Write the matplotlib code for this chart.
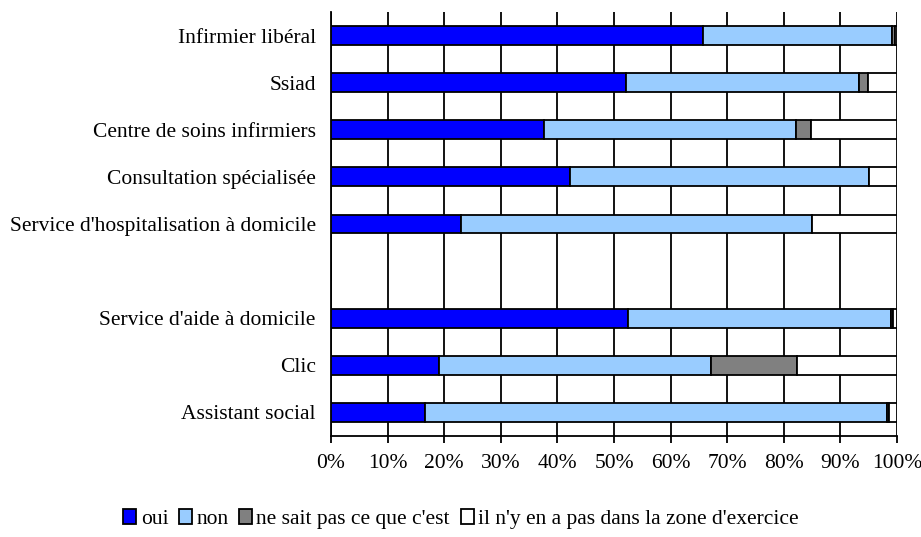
import matplotlib
matplotlib.use("Agg")
import matplotlib.pyplot as plt
import numpy as np

plt.rcParams['font.family'] = ['Liberation Serif', 'DejaVu Serif']

# categories, top to bottom ('' = empty slot between the two groups)
categories = ["Infirmier libéral", "Ssiad", "Centre de soins infirmiers",
              "Consultation spécialisée", "Service d'hospitalisation à domicile",
              "", "Service d'aide à domicile", "Clic", "Assistant social"]

# shares in %
oui = [65.8, 52.1, 37.6, 42.3, 23.0, 0, 52.5, 19.0, 16.6]
non = [33.3, 41.2, 44.6, 52.7, 61.9, 0, 46.4, 48.1, 81.7]
nsp = [0.5, 1.6, 2.6, 0.0, 0.0, 0, 0.4, 15.3, 0.2]
aucun = [0.4, 5.1, 15.2, 5.0, 15.1, 0, 0.7, 17.6, 1.5]

series = [oui, non, nsp, aucun]
labels = ["oui", "non", "ne sait pas ce que c'est",
          "il n'y en a pas dans la zone d'exercice"]
couleurs = ["#0000FF", "#99CCFF", "#808080", "#FFFFFF"]

FS = 15.5

fig = plt.figure(figsize=(9.21, 5.37), dpi=100)
ax = fig.add_axes([331 / 921, 1 - 436 / 537, 566 / 921, 424 / 537])

y = np.arange(len(categories))
left = np.zeros(len(categories))
for vals, lab, col in zip(series, labels, couleurs):
    vals = np.array(vals, dtype=float)
    ax.barh(y, vals, left=left, height=0.4, color=col, edgecolor="black",
            linewidth=1.3, label=lab, zorder=3)
    left += vals

ax.set_xlim(0, 100)
ax.set_ylim(len(categories) - 0.5, -0.5)
ax.set_yticks(y)
ax.set_yticklabels(categories, fontsize=FS)
ax.tick_params(axis="y", length=0, pad=11)
ax.set_xticks(np.arange(0, 101, 10))
ax.set_xticklabels([f"{v}%" for v in range(0, 101, 10)], fontsize=FS)
ax.tick_params(axis="x", length=5, width=1.3, direction="out", pad=8)

ax.grid(axis="x", color="black", linewidth=1.3, zorder=0)
ax.set_axisbelow(True)
for s in ["top", "right"]:
    ax.spines[s].set_visible(False)
for s in ["left", "bottom"]:
    ax.spines[s].set_linewidth(1.3)
    ax.spines[s].set_color("black")

fig.legend(loc="center", bbox_to_anchor=(461 / 921, 1 - 519 / 537), ncol=4,
           frameon=False, fontsize=FS, handlelength=0.6, handleheight=0.7,
           handletextpad=0.2, columnspacing=0.5, borderpad=0)

fig.savefig("out.png", dpi=100)
